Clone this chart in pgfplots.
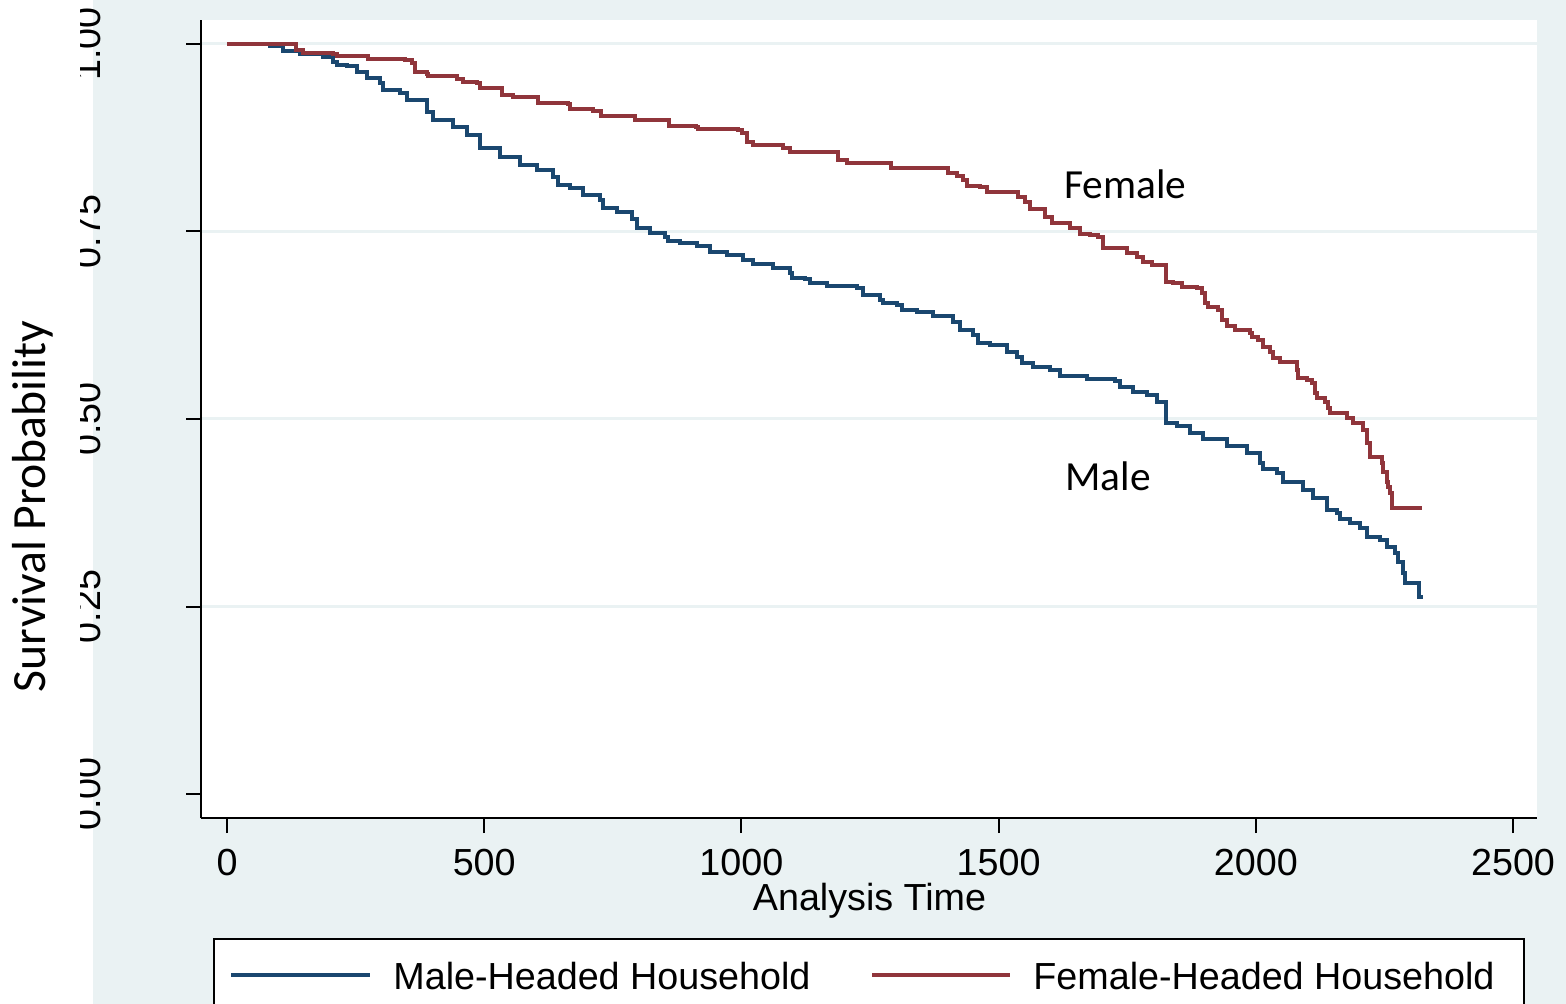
\documentclass[border=0pt]{standalone}
\usepackage{pgfplots}
\pgfplotsset{compat=1.18}
\usepackage{fontspec}
\setmainfont{Liberation Sans}
\newfontfamily\calibri{Carlito}

\definecolor{bgblue}{RGB}{234,242,243}
\definecolor{maleblue}{RGB}{26,71,111}
\definecolor{femred}{RGB}{144,53,59}

% Kaplan-Meier estimates
\pgfplotstableread{
t     s
0     1.000
83.6  0.9973
108.9 0.9907
141.9 0.9867
186.6 0.9827
206.1 0.9760
213.8 0.9720
233.3 0.9707
252.7 0.9627
272.2 0.9547
297.4 0.9480
303.3 0.9387
336.3 0.9347
349.9 0.9253
388.8 0.9093
400.5 0.8987
439.3 0.8893
466.6 0.8787
491.8 0.8613
530.7 0.8493
569.6 0.8387
602.6 0.8320
633.7 0.8227
643.5 0.8120
666.8 0.8080
692.1 0.7987
725.1 0.7920
731.0 0.7813
758.2 0.7760
787.3 0.7667
797.0 0.7547
822.3 0.7480
851.5 0.7427
857.3 0.7373
880.6 0.7347
913.7 0.7307
938.9 0.7227
972.0 0.7187
1003.1 0.7120
1022.6 0.7067
1061.4 0.7013
1094.5 0.6947
1098.4 0.6880
1123.6 0.6867
1133.4 0.6813
1166.4 0.6773
1224.7 0.6747
1236.4 0.6653
1269.4 0.6587
1275.3 0.6547
1302.5 0.6520
1312.2 0.6453
1341.4 0.6427
1372.5 0.6373
1411.4 0.6293
1425.0 0.6187
1450.2 0.6120
1460.0 0.6013
1483.3 0.5987
1516.3 0.5893
1535.8 0.5827
1545.5 0.5747
1566.9 0.5693
1599.9 0.5653
1619.4 0.5573
1671.9 0.5533
1726.3 0.5507
1736.0 0.5427
1761.3 0.5360
1788.5 0.5320
1807.9 0.5227
1825.4 0.4947
1846.8 0.4907
1872.1 0.4813
1897.4 0.4733
1944.0 0.4640
1982.9 0.4547
2008.2 0.4413
2014.0 0.4333
2041.2 0.4280
2052.9 0.4160
2091.8 0.4053
2111.2 0.3947
2138.4 0.3787
2157.9 0.3747
2163.7 0.3667
2183.1 0.3613
2202.6 0.3547
2216.2 0.3427
2241.4 0.3387
2255.1 0.3293
2270.6 0.3213
2276.4 0.3093
2286.2 0.2947
2290.0 0.2813
2317.3 0.2627
2325.0 0.2627
}\maletab

\pgfplotstableread{
t     s
0     1.000
134.0 0.9920
147.7 0.9880
206.1 0.9867
213.8 0.9840
274.1 0.9800
346.0 0.9787
359.6 0.9747
365.5 0.9627
388.8 0.9600
390.8 0.9573
447.1 0.9533
458.8 0.9493
486.0 0.9480
491.8 0.9413
534.6 0.9320
556.0 0.9293
604.6 0.9213
662.9 0.9200
666.8 0.9133
711.5 0.9107
727.1 0.9040
793.2 0.8987
858.5 0.8907
912.1 0.8889
916.0 0.8862
993.4 0.8853
1001.2 0.8813
1010.9 0.8693
1022.6 0.8653
1080.9 0.8613
1094.5 0.8560
1187.8 0.8453
1205.3 0.8413
1290.8 0.8347
1401.6 0.8280
1419.1 0.8240
1430.8 0.8187
1438.6 0.8107
1463.8 0.8093
1477.5 0.8027
1537.7 0.7960
1551.3 0.7893
1561.1 0.7800
1590.2 0.7693
1603.8 0.7613
1638.8 0.7547
1658.2 0.7467
1677.7 0.7453
1693.2 0.7427
1703.0 0.7280
1749.6 0.7213
1769.1 0.7160
1780.7 0.7093
1798.2 0.7053
1825.4 0.6827
1839.0 0.6813
1856.5 0.6760
1885.7 0.6747
1895.4 0.6680
1901.2 0.6547
1907.1 0.6493
1926.5 0.6453
1934.3 0.6320
1944.0 0.6240
1959.6 0.6187
1988.7 0.6147
1992.6 0.6093
2004.3 0.6053
2014.0 0.5960
2027.6 0.5893
2033.4 0.5813
2047.0 0.5760
2080.1 0.5653
2082.0 0.5547
2099.5 0.5520
2109.3 0.5480
2115.1 0.5347
2119.0 0.5280
2134.5 0.5227
2140.4 0.5147
2144.3 0.5080
2177.3 0.5013
2189.0 0.4947
2208.4 0.4853
2216.2 0.4680
2222.0 0.4493
2245.3 0.4413
2247.3 0.4293
2255.1 0.4160
2257.0 0.4093
2260.9 0.4013
2264.8 0.3813
2323.1 0.3813
}\femtab

\begin{document}
\begin{tikzpicture}
\useasboundingbox (0,0) rectangle (783pt,-502pt);
\clip (0,0) rectangle (783pt,-502pt);
% outer regions, in pixel units of the reference
\begin{scope}[x=0.5pt,y=-0.5pt]
  \fill[white] (0,0) rectangle (1566,1004);
  \fill[bgblue] (93,0) rectangle (1566,1004);
\end{scope}

\begin{axis}[
  at={(100.5pt,-409pt)}, anchor=south west,
  scale only axis, width=668pt, height=399pt,
  xmin=-50.54, xmax=2546.7,
  ymin=-0.032, ymax=1.032,
  axis x line*=bottom, axis y line*=left,
  axis line style={line width=1pt, black, -},
  axis background/.style={fill=white},
  tick align=outside, major tick length=7.5pt,
  tick style={line width=1pt, black},
  xtick={0,500,...,2500},
  ytick={0.25,0.5,0.75,1},
  extra y ticks={0},
  extra y tick style={grid=none},
  xticklabels={}, yticklabels={},
  extra y tick labels={},
  ymajorgrids,
  grid style={line width=1.5pt, bgblue},
  clip=false,
]
\addplot[const plot, maleblue, line width=2.1pt] table[x=t, y=s] {\maletab};
\addplot[const plot, femred, line width=2.1pt] table[x=t, y=s] {\femtab};
\end{axis}

\begin{scope}[x=0.5pt,y=-0.5pt]
  \fontsize{18.85}{22}\selectfont
  % y tick labels (tops cut off as in the reference)
  \foreach \p/\l in {794/0.00, 606.5/0.25, 419/0.50, 231.5/0.75, 44/1.00}
    \node[rotate=90, anchor=base, inner sep=0pt] at (100,\p) {\l};
  \fill[white] (58,0) rectangle (80,1004);
  % x tick labels
  \foreach \p/\l in {227/0, 484.2/500, 741.4/1000, 998.6/1500, 1255.8/2000, 1513/2500}
    \node[anchor=base, inner sep=0pt] at (\p,875) {\l};
  \node[anchor=base, inner sep=0pt] at (869.5,910) {Analysis Time};
  \node[rotate=90, anchor=base, inner sep=0pt, font=\calibri\fontsize{23.85}{28}\selectfont] at (45,506.5) {Survival Probability};
  \node[anchor=base west, inner sep=0pt, font=\calibri\fontsize{20.7}{24}\selectfont] at (1064,199) {Female};
  \node[anchor=base west, inner sep=0pt, font=\calibri\fontsize{20.7}{24}\selectfont] at (1065,491) {Male};
  % legend
  \draw[line width=1pt, fill=white] (214,939) rectangle (1524,1040);
  \draw[maleblue, line width=2pt] (231,975) -- (370,975);
  \draw[femred, line width=2pt] (872,975) -- (1010,975);
  \node[anchor=base west, inner sep=0pt] at (393,989) {Male-Headed Household};
  \node[anchor=base west, inner sep=0pt] at (1033,989) {Female-Headed Household};
\end{scope}
\end{tikzpicture}
\end{document}
